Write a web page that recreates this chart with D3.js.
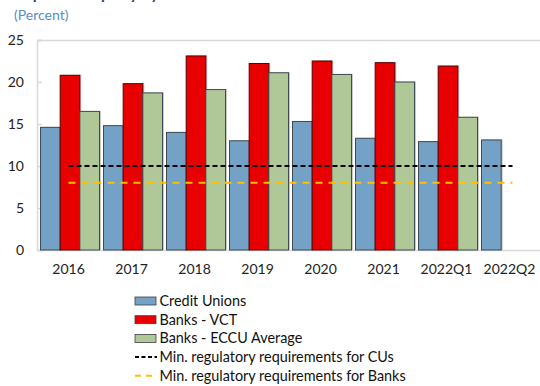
<!DOCTYPE html>
<html>
<head>
<meta charset="utf-8">
<script src="https://cdn.jsdelivr.net/npm/d3@7"></script>
<style>
  html, body { margin: 0; padding: 0; background: #fff; }
  svg { display: block; font-family: Lato, "Open Sans", sans-serif; }
</style>
</head>
<body>
<svg id="chart" width="540" height="386"></svg>
<script>
// Capital adequacy ratios by year (percent)
const categories = ["2016", "2017", "2018", "2019", "2020", "2021", "2022Q1", "2022Q2"];
const seriesNames = ["Credit Unions", "Banks - VCT", "Banks - ECCU Average"];
const creditUnions = [14.6, 14.8, 14.0, 13.0, 15.3, 13.3, 12.9, 13.1];
const banksVCT = [20.8, 19.8, 23.1, 22.2, 22.5, 22.3, 21.9, null];
const banksECCU = [16.5, 18.7, 19.1, 21.1, 20.9, 20.0, 15.8, null];
const minCU = 10;
const minBanks = 8;
const yTicks = [0, 5, 10, 15, 20, 25];

const seriesValues = [creditUnions, banksVCT, banksECCU];
const fills = ["#74a1c6", "#e80000", "#b0c898"];

const svg = d3.select("#chart");
const plot = { left: 37, right: 541, top: 40, bottom: 250 };

const x0 = d3.scaleBand().domain(categories).range([plot.left, plot.right]);
const x1 = d3.scaleBand().domain(seriesNames).range([3.5, 62.5]);
const y = d3.scaleLinear().domain([0, 25]).range([plot.bottom, plot.top]);

// Title sits above the top edge; only its descenders show
svg.append("text")
  .attr("x", 14).attr("y", -1)
  .attr("font-size", 16).attr("font-weight", "bold")
  .attr("fill", "#1f4e79")
  .text("Capital Adequacy by Institution");

svg.append("text")
  .attr("x", 14).attr("y", 20)
  .attr("font-size", 14).attr("fill", "#5b8cc4")
  .text("(Percent)");

// Plot frame: top, left and baseline rules
const frameColor = "#d9d9d9";
svg.append("line").attr("x1", plot.left).attr("x2", plot.right)
  .attr("y1", plot.top + 0.5).attr("y2", plot.top + 0.5)
  .attr("stroke", frameColor).attr("stroke-width", 1.5);

// Left axis
const yAxis = d3.axisLeft(y).tickValues(yTicks).tickSize(-5).tickPadding(13);
const gy = svg.append("g").attr("transform", `translate(${plot.left},0)`).call(yAxis);
gy.select(".domain").attr("stroke", frameColor).attr("stroke-width", 1.5);
gy.selectAll(".tick line").attr("stroke", frameColor).attr("stroke-width", 1.5);
gy.selectAll(".tick text").attr("font-size", 14).attr("fill", "#222")
  .attr("font-family", "Lato, sans-serif");

// Bottom axis with ticks between categories
const xAxis = d3.axisBottom(x0).tickSize(0).tickPadding(14);
const gx = svg.append("g").attr("transform", `translate(0,${plot.bottom})`).call(xAxis);
gx.select(".domain").attr("stroke", frameColor).attr("stroke-width", 1.5);
gx.selectAll(".tick text").attr("font-size", 14).attr("fill", "#222")
  .attr("font-family", "Lato, sans-serif");
svg.append("g").selectAll("line")
  .data(categories.slice(1))
  .join("line")
  .attr("x1", d => x0(d)).attr("x2", d => x0(d))
  .attr("y1", plot.bottom).attr("y2", plot.bottom - 5)
  .attr("stroke", frameColor).attr("stroke-width", 1.5);

// Bars with a soft drop shadow
const barData = [];
categories.forEach((c, i) => {
  seriesNames.forEach((s, j) => {
    const v = seriesValues[j][i];
    if (v != null) barData.push({ cat: c, series: s, value: v, idx: j });
  });
});

const bars = svg.append("g");
bars.selectAll("rect.shadow")
  .data(barData)
  .join("rect")
  .attr("class", "shadow")
  .attr("x", d => x0(d.cat) + x1(d.series) + 1.5)
  .attr("y", d => y(d.value) - 0.5)
  .attr("width", x1.bandwidth())
  .attr("height", d => y(0) - y(d.value) + 0.5)
  .attr("fill", "#c8c8c8");

bars.selectAll("rect.bar")
  .data(barData)
  .join("rect")
  .attr("class", "bar")
  .attr("x", d => x0(d.cat) + x1(d.series))
  .attr("y", d => y(d.value))
  .attr("width", x1.bandwidth())
  .attr("height", d => y(0) - y(d.value))
  .attr("fill", d => fills[d.idx])
  .attr("stroke", d => d.idx === 1 ? "#5a0000" : "#3f4a52")
  .attr("stroke-width", 1);

// Regulatory minimum lines
const xStart = x0(categories[0]) + x0.bandwidth() / 2;
const xEnd = x0(categories[categories.length - 1]) + x0.bandwidth() / 2 + 3;
svg.append("line")
  .attr("x1", xStart).attr("x2", xEnd)
  .attr("y1", y(minCU)).attr("y2", y(minCU))
  .attr("stroke", "#000").attr("stroke-width", 2)
  .attr("stroke-dasharray", "5,3");
svg.append("line")
  .attr("x1", xStart).attr("x2", xEnd)
  .attr("y1", y(minBanks)).attr("y2", y(minBanks))
  .attr("stroke", "#ffc000").attr("stroke-width", 2)
  .attr("stroke-dasharray", "7,6");

// Legend
const legendItems = [
  { label: "Credit Unions", type: "box", fill: fills[0] },
  { label: "Banks - VCT", type: "box", fill: fills[1] },
  { label: "Banks - ECCU Average", type: "box", fill: fills[2] },
  { label: "Min. regulatory requirements for CUs", type: "line", stroke: "#000", dash: "4,2.5" },
  { label: "Min. regulatory requirements for Banks", type: "line", stroke: "#ffc000", dash: "6,5" }
];
const legend = svg.append("g");
const rows = legend.selectAll("g").data(legendItems).join("g")
  .attr("transform", (d, i) => `translate(135,${301 + i * 18.7})`);
rows.filter(d => d.type === "box").append("rect")
  .attr("x", 0).attr("y", -4).attr("width", 21).attr("height", 8)
  .attr("fill", d => d.fill).attr("stroke", "#404040").attr("stroke-width", 0.8);
rows.filter(d => d.type === "line").append("line")
  .attr("x1", 0).attr("x2", 22).attr("y1", 0).attr("y2", 0)
  .attr("stroke", d => d.stroke).attr("stroke-width", 2)
  .attr("stroke-dasharray", d => d.dash);
rows.append("text")
  .attr("x", 24.5).attr("y", 0).attr("dy", "0.35em")
  .attr("font-size", 14.4).attr("fill", "#111")
  .text(d => d.label);
</script>
</body>
</html>
